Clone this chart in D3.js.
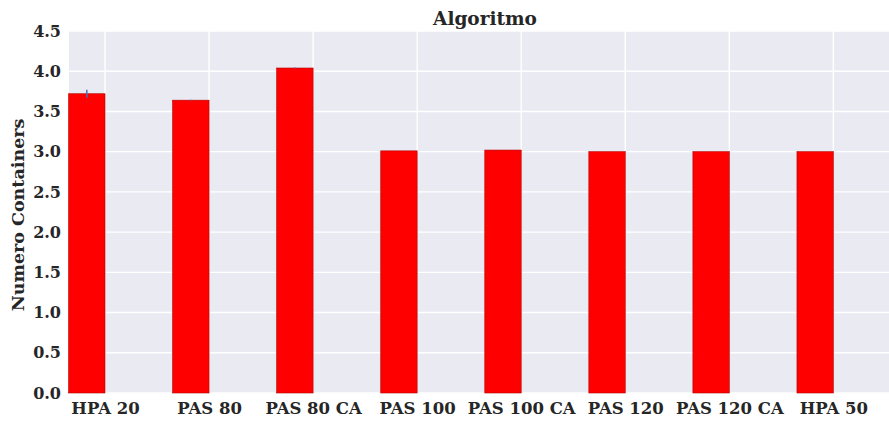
<!DOCTYPE html>
<html>
<head>
<meta charset="utf-8">
<script src="https://cdn.jsdelivr.net/npm/d3@7/dist/d3.min.js"></script>
<style>
  html, body { margin: 0; padding: 0; background: #fff; }
  svg { display: block; }
  text { font-family: "DejaVu Serif", "Liberation Serif", serif; font-weight: bold; fill: #262626; }
</style>
</head>
<body>
<svg id="chart" width="889" height="421"></svg>
<script>
// Mean container count per autoscaling algorithm
const categories = ["HPA 20", "PAS 80", "PAS 80 CA", "PAS 100", "PAS 100 CA", "PAS 120", "PAS 120 CA", "HPA 50"];
const means = [3.72, 3.64, 4.04, 3.01, 3.02, 3.00, 3.00, 3.00];
const errors = [0.05, 0.005, 0.005, 0, 0, 0, 0, 0];
const yTicks = [0.0, 0.5, 1.0, 1.5, 2.0, 2.5, 3.0, 3.5, 4.0, 4.5];
const barWidth = 0.35;

const svg = d3.select("#chart");
const margin = { left: 69, top: 31, right: 901, bottom: 393 };

const x = d3.scaleLinear().domain([-0.346, 7.65]).range([margin.left, margin.right]);
const y = d3.scaleLinear().domain([0, 4.5]).range([margin.bottom, margin.top]);

// plot background
svg.append("rect")
  .attr("x", margin.left).attr("y", margin.top)
  .attr("width", margin.right - margin.left)
  .attr("height", margin.bottom - margin.top)
  .attr("fill", "#EAEAF2");

// grid lines
const grid = svg.append("g");
grid.selectAll("line.h").data(yTicks).enter().append("line")
  .attr("x1", margin.left).attr("x2", margin.right)
  .attr("y1", d => y(d)).attr("y2", d => y(d))
  .attr("stroke", "#fff").attr("stroke-width", 1.4);
grid.selectAll("line.v").data(categories).enter().append("line")
  .attr("x1", (d, i) => x(i)).attr("x2", (d, i) => x(i))
  .attr("y1", margin.top).attr("y2", margin.bottom)
  .attr("stroke", "#fff").attr("stroke-width", 1.4);

// bars, right edge aligned on the category tick
svg.append("g").selectAll("rect").data(means).enter().append("rect")
  .attr("x", (d, i) => x(i - barWidth))
  .attr("width", (d, i) => x(i) - x(i - barWidth))
  .attr("y", d => y(d))
  .attr("height", d => y(0) - y(d))
  .attr("fill", "#FF0000")
  .attr("stroke", "#B00000")
  .attr("stroke-width", 0.6);

// error bars
svg.append("g").selectAll("line").data(means).enter().append("line")
  .attr("x1", (d, i) => x(i - barWidth / 2))
  .attr("x2", (d, i) => x(i - barWidth / 2))
  .attr("y1", (d, i) => y(d - errors[i]))
  .attr("y2", (d, i) => y(d + errors[i]))
  .attr("stroke", "#4C72B0")
  .attr("stroke-width", 1.5);

// y axis
const yAxis = svg.append("g")
  .attr("transform", `translate(${margin.left},0)`)
  .call(d3.axisLeft(y).tickValues(yTicks).tickFormat(d3.format(".1f")).tickSize(0).tickPadding(8));
yAxis.select(".domain").remove();
yAxis.selectAll("text").style("font-size", "16px").attr("fill", "#262626");

// x axis
const xAxis = svg.append("g")
  .attr("transform", `translate(0,${margin.bottom})`)
  .call(d3.axisBottom(x).tickValues(d3.range(categories.length)).tickFormat(i => categories[i]).tickSize(0).tickPadding(9));
xAxis.select(".domain").remove();
xAxis.selectAll("text").style("font-size", "16.5px").attr("fill", "#262626");

// axis label
svg.append("text")
  .attr("transform", `translate(24,${(margin.top + margin.bottom) / 2 + 3}) rotate(-90)`)
  .attr("text-anchor", "middle")
  .style("font-size", "17.5px")
  .text("Numero Containers");

// title
svg.append("text")
  .attr("x", (margin.left + margin.right) / 2)
  .attr("y", 25)
  .attr("text-anchor", "middle")
  .style("font-size", "18.5px")
  .text("Algoritmo");
</script>
</body>
</html>
